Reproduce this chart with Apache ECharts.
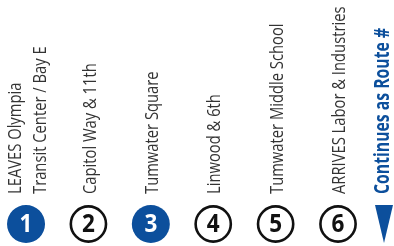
<!DOCTYPE html>
<html>
<head>
<meta charset="utf-8">
<script src="https://cdn.jsdelivr.net/npm/echarts@6/dist/echarts.min.js"></script>
<style>
  html, body { margin: 0; padding: 0; background: #fff; }
  #chart { width: 394px; height: 246px; }
</style>
</head>
<body>
<div id="chart"></div>
<script>
// timepoints along the route
const stopNumbers = [1, 2, 3, 4, 5, 6];
const stopNames = [
  'LEAVES Olympia\nTransit Center / Bay E',
  'Capitol Way & 11th',
  'Tumwater Square',
  'Linwood & 6th',
  'Tumwater Middle School',
  'ARRIVES Labor & Industries'
];
const majorStops = [true, false, true, false, false, false];
const continueText = 'Continues as Route #';

const BLUE = '#0c4f9c';
const TEXT = '#333333';
const FONT = "'Open Sans', 'Noto Sans', sans-serif";

var myChart = echarts.init(document.getElementById('chart'));

const seriesData = stopNumbers.map((n, i) => [n, 0, majorStops[i] ? 1 : 0]);

const option = {
  animation: false,
  grid: { left: 0, right: 0, top: 0, bottom: 22 },
  xAxis: { type: 'value', min: 0.583, max: 6.897, show: false },
  yAxis: { type: 'value', min: 0, max: 1, show: false },
  series: [
    {
      type: 'custom',
      data: seriesData,
      renderItem: function (params, api) {
        const p = api.coord([api.value(0), api.value(1)]);
        const major = api.value(2) === 1;
        const name = stopNames[params.dataIndex];
        return {
          type: 'group',
          children: [
            {
              type: 'circle',
              shape: { cx: p[0], cy: p[1], r: major ? 19 : 17.6 },
              style: {
                fill: major ? BLUE : '#fff',
                stroke: major ? null : '#111',
                lineWidth: major ? 0 : 2.6
              }
            },
            {
              type: 'text',
              x: p[0],
              y: p[1] + 1,
              scaleX: 0.9,
              style: {
                text: String(api.value(0)),
                align: 'center',
                verticalAlign: 'middle',
                font: 'bold 25px ' + FONT,
                fill: major ? '#fff' : '#111'
              }
            },
            {
              type: 'text',
              x: p[0] + 2,
              y: p[1] - 30,
              rotation: Math.PI / 2,
              scaleX: 0.82,
              style: {
                text: name,
                align: 'left',
                verticalAlign: 'middle',
                font: '18px ' + FONT,
                lineHeight: 25,
                fill: TEXT
              }
            }
          ]
        };
      }
    }
  ],
  graphic: [
    {
      type: 'polygon',
      shape: { points: [[375, 205], [393, 205], [384, 243]] },
      style: { fill: BLUE }
    },
    {
      type: 'text',
      x: 383,
      y: 194,
      rotation: Math.PI / 2,
      scaleX: 0.75,
      style: {
        text: continueText,
        align: 'left',
        verticalAlign: 'middle',
        font: 'bold 21px ' + FONT,
        fill: BLUE
      }
    }
  ]
};

myChart.setOption(option);
</script>
</body>
</html>
